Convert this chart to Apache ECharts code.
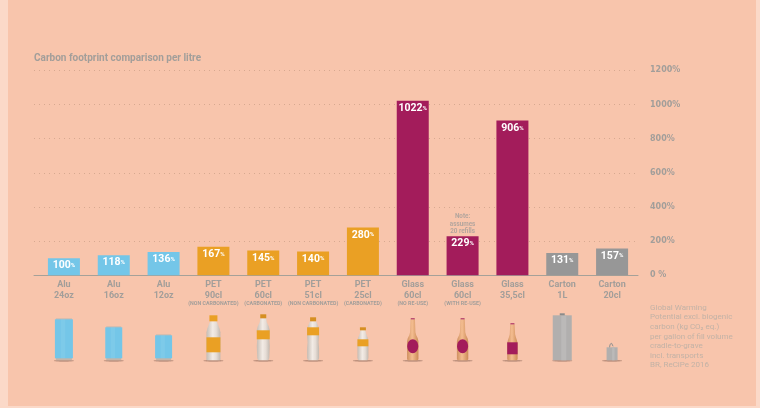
<!DOCTYPE html>
<html>
<head>
<meta charset="utf-8">
<style>html,body{margin:0;padding:0;background:#fbd9c8}#c{width:760px;height:408px}</style>
<script src="https://cdn.jsdelivr.net/npm/echarts@6/dist/echarts.min.js"></script>
</head>
<body>
<div id="c"></div>
<script>
// Footprint values, % relative to the 24oz can
const containerNames = ['Alu','Alu','Alu','PET','PET','PET','PET','Glass','Glass','Glass','Carton','Carton'];
const containerSizes = ['24oz','16oz','12oz','90cl','60cl','51cl','25cl','60cl','60cl','35,5cl','1L','20cl'];
const containerNotes = ['','','','(NON CARBONATED)','(CARBONATED)','(NON CARBONATED)','(CARBONATED)','(NO RE-USE)','(WITH RE-USE)','','',''];
const footprintValues = [100,118,136,167,145,140,280,1022,229,906,131,157];
const materials = ['alu','alu','alu','pet','pet','pet','pet','glass','glass','glass','carton','carton'];
const valueTicks = [0,200,400,600,800,1000,1200];
const refillNote = ['Note:','assumes','20 refills'];
const methodNote = ['Global Warming','Potential excl. biogenic','carbon (kg CO₂ eq.)','per gallon of fill volume','cradle-to-grave','incl. transports','BR, ReCiPe 2016'];

const FONT = 'Roboto, "Noto Sans", sans-serif';
const WIDE_FONT = '"DejaVu Sans", Roboto, sans-serif';
const GREY = '#a29e9a';
const MATERIAL_COLOR = {alu:'#74c6e8', pet:'#eaa024', glass:'#a31c5b', carton:'#979797'};

const silver = () => new echarts.graphic.LinearGradient(0,0,1,0,[
  {offset:0,color:'#c6bcb3'},{offset:.45,color:'#f2ebe5'},{offset:.7,color:'#e6ddd6'},{offset:1,color:'#c2b8af'}]);
const amber = () => new echarts.graphic.LinearGradient(0,0,1,0,[
  {offset:0,color:'#cf9060'},{offset:.45,color:'#f4bd90'},{offset:1,color:'#cb8a56'}]);

// Pictogram parts: offsets in px from the band centre and from the pictogram floor
const rect = (x,y,w,h,fill) => ({type:'rect',shape:{x,y:-y-h,width:w,height:h},style:{fill}});
const shell = (profile,fill) => {
  const pts = profile.map(p=>[p[1],-p[0]]);
  const back = profile.slice().reverse().map(p=>[-p[1],-p[0]]);
  return {type:'polygon',shape:{points:pts.concat(back)},style:{fill}};
};
const can = (h,hw) => [
  rect(-hw+1,0,hw*2-2,2.5,'#c4b5aa'),
  rect(-hw+1,h-1,hw*2-2,2,'#c9bbb0'),
  rect(-hw,2,hw*2,h-2,'#74c6e8'),
  rect(-hw*0.35,2,hw*0.5,h-2,'rgba(255,255,255,.07)')
];
const pet = (profile,capY,capH,capHw,labelY,labelH,labelHw,capColor) => [
  shell(profile,silver()),
  rect(-labelHw,labelY,labelHw*2,labelH,'#eaa024'),
  rect(-capHw,capY,capHw*2,capH,capColor)
];
const glass = (top,shoulder,hw,neck) => shell([[0,hw-1],[1,hw],[shoulder-3,hw],[shoulder,hw-.7],[shoulder+3,neck+1],[shoulder+6,neck+.2],[top,neck-.3]],amber());
const CONTAINER_DRAW = [
  can(41,9), can(33,8.5), can(25,8.5),
  pet([[0,6.5],[1,7],[28,7],[32,6],[37,4],[39,3]],39,6,4,8,15,7,'#eaa024'),
  pet([[0,5],[2,6],[14,6.5],[22,6],[30,6.5],[34,5.5],[38,3.5],[42,3],[42,3]],42,4,3,21,9,6.5,'#d68f22'),
  pet([[0,5],[2,6],[12,6],[18,5.5],[25,6],[33,5.5],[38,3.5],[39,3]],39,4,3,25,8,6,'#d68f22'),
  pet([[0,4.5],[2,5.5],[10,5.5],[14,5.5],[22,5],[27,3],[30,2.5]],30,3,3,14,7,5.5,'#d68f22'),
  [glass(41,22,5.7,2.5), {type:'ellipse',shape:{cx:0,cy:-14,rx:5.5,ry:7},style:{fill:'#a31c5b'}}, rect(-2,41,4,1,'#a31c5b')],
  [glass(41,22,5.7,2.5), {type:'ellipse',shape:{cx:0,cy:-14,rx:5.5,ry:7},style:{fill:'#a31c5b'}}, rect(-2,41,4,1,'#a31c5b')],
  [glass(36,20,5.2,2.5), rect(-5.2,6,10.4,12,'#a31c5b'), rect(-2,36,4,1,'#a31c5b')],
  [rect(-9.5,0,19,45,'#b1afae'), rect(-1,0,5,45,'#bbb9b8'), rect(-2.5,45,5,2,'#8b8b8b')],
  [rect(-5.5,0,11,13,'#b1afae'), rect(0,0,2.5,13,'#bbb9b8'),
   {type:'polyline',shape:{points:[[-2.5,-13],[-2,-16],[-.5,-17],[1,-14]]},style:{stroke:'#8f8f8f',fill:null,lineWidth:1}}]
];
const PICTOGRAM_DROP = 85; // floor of the pictograms below the chart baseline

const chart = echarts.init(document.getElementById('c'), null, {renderer:'canvas'});
chart.setOption({
  animation:false,
  backgroundColor:'#fbd9c8',
  textStyle:{fontFamily:FONT},
  graphic:[{type:'rect',z:-100,silent:true,shape:{x:8,y:0,width:748,height:406},style:{fill:'#f8c5ac'}}],
  title:[
    {text:'Carbon footprint comparison per litre',left:34,top:53,padding:0,
     textStyle:{fontFamily:FONT,fontSize:10,fontWeight:700,color:GREY}},
    {text:methodNote.join('\n'),left:650,top:303,padding:0,
     textStyle:{fontFamily:FONT,fontSize:8,fontWeight:400,color:'#c2b2a6',lineHeight:9.6}}
  ],
  grid:[
    {left:39,right:123,top:70.3,bottom:132.7},
    {left:34,right:122,top:70.3,bottom:132.7}
  ],
  xAxis:[
    {type:'category',gridIndex:0,data:containerNames.map((n,i)=>i),
     axisLine:{show:false},axisTick:{show:false},
     axisLabel:{interval:0,margin:4,
       formatter:(v)=>{
         const i=+v;
         let s='{m|'+containerNames[i]+'}\n{m|'+containerSizes[i]+'}';
         if(containerNotes[i]) s+='\n{s|'+containerNotes[i]+'}';
         return s;
       },
       rich:{
         m:{fontFamily:FONT,fontSize:9,fontWeight:700,color:GREY,lineHeight:11,align:'center'},
         s:{fontFamily:FONT,fontSize:5.3,fontWeight:700,color:GREY,lineHeight:5,align:'center'}
       }}},
    {type:'category',gridIndex:1,data:[''],
     axisLine:{show:true,lineStyle:{color:'#a5a199',width:1}},axisTick:{show:false},axisLabel:{show:false}}
  ],
  yAxis:[
    {type:'value',gridIndex:0,min:0,max:1200,interval:200,show:false,splitLine:{show:false}},
    {type:'value',gridIndex:1,min:0,max:1200,interval:200,position:'right',
     axisLine:{show:false},axisTick:{show:false},
     axisLabel:{margin:12,fontFamily:WIDE_FONT,fontSize:8,fontWeight:700,color:GREY,
       customValues:valueTicks,
       formatter:v=>v===0?'0 %':v+'%'},
     splitLine:{show:true,lineStyle:{color:'rgba(170,130,105,.42)',width:1,type:[1,4]}}}
  ],
  series:[
    {type:'bar',xAxisIndex:0,yAxisIndex:0,barWidth:32,z:3,
     data:footprintValues.map((v,i)=>({value:v,itemStyle:{color:MATERIAL_COLOR[materials[i]]}})),
     label:{show:true,position:'insideTop',distance:2,
       formatter:p=>'{v|'+p.value+'}{p|%}',
       rich:{
         v:{fontFamily:FONT,fontSize:10.5,fontWeight:700,color:'#fff'},
         p:{fontFamily:FONT,fontSize:6,fontWeight:700,color:'#fff'}
       }}},
    // Refill remark sitting above the re-used glass bottle
    {type:'scatter',xAxisIndex:0,yAxisIndex:0,symbolSize:0,z:4,silent:true,
     data:[[8,footprintValues[8]]],
     label:{show:true,position:'top',distance:1,formatter:refillNote.join('\n'),
       fontFamily:FONT,fontSize:6.3,fontWeight:700,color:GREY,lineHeight:7.3,align:'center'}},
    // Container pictograms under the category names
    {type:'custom',xAxisIndex:0,yAxisIndex:0,clip:false,z:3,silent:true,
     data:containerNames.map((n,i)=>[i,0]),
     renderItem:(params,api)=>{
       const p=api.coord([api.value(0),0]);
       const i=api.value(0);
       return {type:'group',x:p[0],y:p[1]+PICTOGRAM_DROP,children:[
         {type:'ellipse',shape:{cx:0,cy:.5,rx:10,ry:1},style:{fill:'rgba(120,85,70,.45)'}}
       ].concat(CONTAINER_DRAW[i])};
     }}
  ]
});
</script>
</body>
</html>
